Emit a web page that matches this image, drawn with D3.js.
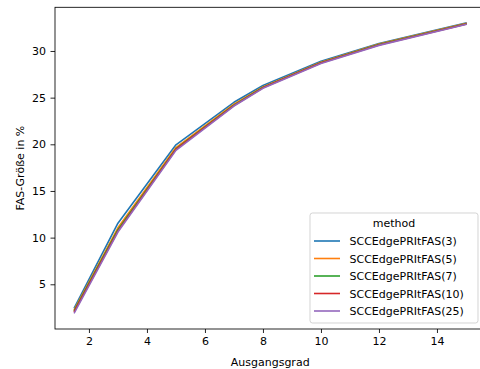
<!DOCTYPE html>
<html><head><meta charset="utf-8">
<script src="https://cdn.jsdelivr.net/npm/d3@7"></script>
<style>body{margin:0;background:#fff}svg{display:block}text{font-family:"DejaVu Sans",sans-serif;fill:#000}</style>
</head><body>
<script>
const xValues = [1.5, 3, 5, 7, 8, 10, 12, 15];
const s3  = [2.5, 11.55, 19.95, 24.5, 26.3, 28.9, 30.8, 33.0];
const s5  = [2.3, 11.05, 19.65, 24.3, 26.15, 28.8, 30.75, 32.95];
const s7  = [2.2, 10.85, 19.5, 24.2, 26.1, 28.75, 30.7, 32.9];
const s10 = [2.1, 10.7, 19.45, 24.15, 26.05, 28.7, 30.65, 32.88];
const s25 = [1.95, 10.6, 19.35, 24.1, 26.0, 28.65, 30.6, 32.85];
const seriesNames = ["SCCEdgePRItFAS(3)","SCCEdgePRItFAS(5)","SCCEdgePRItFAS(7)","SCCEdgePRItFAS(10)","SCCEdgePRItFAS(25)"];
const seriesValues = [s3, s5, s7, s10, s25];
const colors = ["#1f77b4","#ff7f0e","#2ca02c","#d62728","#9467bd"];
const xTicks = [2,4,6,8,10,12,14];
const yTicks = [5,10,15,20,25,30];

const W=480,H=369;
const L=55,R=485.4,T=7.3,B=329;
const svg=d3.select("body").append("svg").attr("width",W).attr("height",H);
const x=d3.scaleLinear().domain([0.83,15.67]).range([L,R]);
const y=d3.scaleLinear().domain([0.21,34.68]).range([B,T]);

const fs="11px";
const line=d3.line().x(d=>x(d[0])).y(d=>y(d[1]));
seriesValues.forEach((vals,i)=>{
  svg.append("path").datum(xValues.map((xv,j)=>[xv,vals[j]]))
    .attr("d",line).attr("fill","none").attr("stroke",colors[i])
    .attr("stroke-width",1.6).attr("stroke-linejoin","round").attr("stroke-linecap","square");
});

const xAxis=svg.append("g").attr("transform",`translate(0,${B})`)
  .call(d3.axisBottom(x).tickValues(xTicks).tickSize(4).tickPadding(4.5).tickFormat(d3.format("d")));
const yAxis=svg.append("g").attr("transform",`translate(${L},0)`)
  .call(d3.axisLeft(y).tickValues(yTicks).tickSize(4.5).tickPadding(4.5).tickFormat(d3.format("d")));
[xAxis,yAxis].forEach(g=>{
  g.select(".domain").remove();
  g.selectAll("line").attr("stroke","#000").attr("stroke-width",0.85);
  g.selectAll("text").style("font-size",fs).style("font-family","DejaVu Sans").attr("fill","#000");
});
// spines
svg.append("rect").attr("x",L).attr("y",T).attr("width",R-L).attr("height",B-T)
  .attr("fill","none").attr("stroke","#000").attr("stroke-width",0.85);

svg.append("text").attr("x",(L+R)/2).attr("y",365.5).attr("text-anchor","middle")
  .style("font-size",fs).text("Ausgangsgrad");
svg.append("text").attr("transform",`translate(24,${(T+B)/2}) rotate(-90)`).attr("text-anchor","middle")
  .style("font-size",fs).text("FAS-Größe in %");

// legend
const lg=svg.append("g");
lg.append("rect").attr("x",310).attr("y",213).attr("width",168).attr("height",110).attr("rx",2.5)
  .attr("fill","#fff").attr("fill-opacity",0.8).attr("stroke","#cccccc").attr("stroke-width",0.85);
lg.append("text").attr("x",394).attr("y",226.5).attr("text-anchor","middle").style("font-size",fs).text("method");
seriesNames.forEach((n,i)=>{
  const cy=241+i*17.5;
  lg.append("line").attr("x1",314).attr("x2",340).attr("y1",cy).attr("y2",cy)
    .attr("stroke",colors[i]).attr("stroke-width",1.6);
  lg.append("text").attr("x",349.5).attr("y",cy+4).style("font-size",fs).text(n);
});
</script>
</body></html>
